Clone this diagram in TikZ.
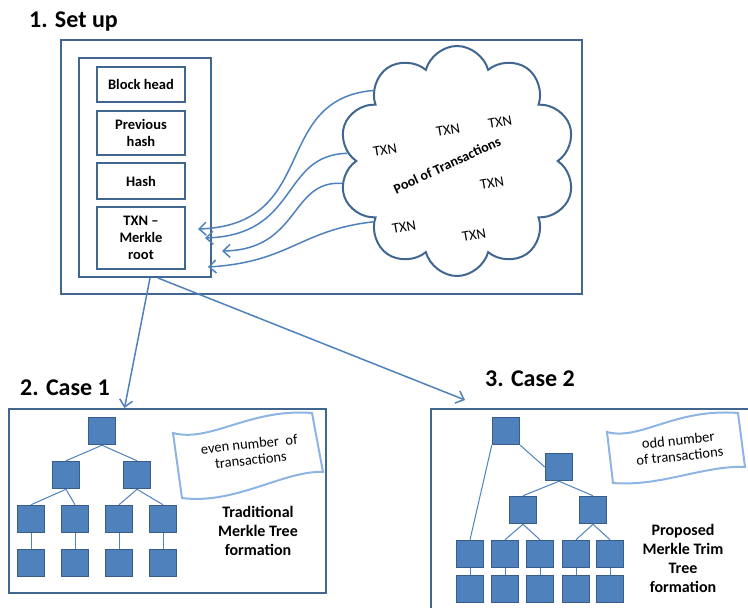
\documentclass[tikz,border=0pt]{standalone}
\usepackage{fontspec}
\setmainfont{Carlito}
\usetikzlibrary{arrows.meta,shapes.symbols}
\definecolor{boxblue}{HTML}{41668F}
\definecolor{sqfill}{HTML}{4F81BD}
\definecolor{sqline}{HTML}{385D8A}
\definecolor{flagblue}{HTML}{8EB4E3}
\tikzset{
	frame/.style={draw=boxblue, line width=2pt},
	field/.style={draw=boxblue, line width=2pt, minimum width=88pt, align=center, font=\bfseries\fontsize{14.5}{17}\selectfont},
	sq/.style={draw=sqline, fill=sqfill, line width=1.5pt, minimum size=27pt, inner sep=0pt},
	link/.style={draw=sqfill, line width=1pt},
	feed/.style={draw=sqfill, line width=1.5pt, -{Straight Barb[length=7pt,width=13pt]}},
	title/.style={anchor=base west, inner sep=0pt, font=\bfseries\fontsize{24}{28}\selectfont},
	txn/.style={inner sep=1pt, font=\fontsize{14.5}{17}\selectfont, rotate=10},
	flag/.style={draw=flagblue, line width=2pt},
	note/.style={align=center, font=\bfseries\fontsize{16}{19}\selectfont}
}
\begin{document}
\begin{tikzpicture}[x=1pt,y=-1pt]
	\useasboundingbox (0,0) rectangle (748,608);
	\clip (0,0) rectangle (748,608);
	\node [title] (t1) at (29,27) {1. Set up};
	\node [title] (t2) at (20,395) {2. Case 1};
	\node [title] (t3) at (485,386) {3. Case 2};
	\node [frame, minimum width=521pt, minimum height=254pt] (setup) at (321.5,167) {};
	\node [frame, minimum width=132pt, minimum height=219pt] (block) at (145,167.5) {};
	\node [field, minimum height=35pt] (head) at (141,84.5) {Block head};
	\node [field, minimum height=44pt] (prev) at (141,133) {Previous\\hash};
	\node [field, minimum height=36pt] (hash) at (141,181) {Hash};
	\node [field, minimum height=62pt] (root) at (141,238) {TXN --\\Merkle\\root};
	\node [cloud, cloud puffs=10, cloud puff arc=150, cloud ignores aspect, draw=boxblue, line width=2pt, minimum width=237pt, minimum height=230pt] (pool) at (457,161) {};
	\foreach \x/\y/\n in {385/150/1,448/130/2,500/122/3,492/183/4,404/227/5,474/235/6}
	\node [txn] (x\n) at (\x,\y) {TXN};
	\node [rotate=25, inner sep=0pt, font=\bfseries\fontsize{14}{17}\selectfont] (label) at (447,165) {Pool of Transactions};
	\coordinate (in1) at (198,229);
	\coordinate (in2) at (205,238);
	\coordinate (in3) at (222,251);
	\coordinate (in4) at (208,267);
	\draw [feed] (pool.140) .. controls (270,100) and (320,225) .. (in1);
	\draw [feed] (pool.176) .. controls (280,155) and (300,235) .. (in2);
	\draw [feed] (pool.191) .. controls (290,180) and (300,250) .. (in3);
	\draw [feed] (pool.216) .. controls (300,230) and (290,262) .. (in4);
	\node [frame, minimum width=317pt, minimum height=184pt] (case1) at (167.5,501) {};
	\draw [frame] (760,409) -- (431,409) -- (431,620);
	\coordinate (case2) at (465,400);
	\draw [feed] ([xshift=5pt]block.south) -- ([xshift=-43pt]case1.north);
	\draw [feed] ([xshift=13pt]block.south) -- (case2);
	\node [sq] (a) at (102,431) {};
	\foreach \x/\n in {66/1,137/2}
	\node [sq] (b\n) at (\x,475) {};
	\foreach \x/\n in {31/1,75/2,119/3,163/4}
	\node [sq] (c\n) at (\x,519) {};
	\foreach \x/\n in {31/1,75/2,119/3,163/4}
	\node [sq] (d\n) at (\x,563) {};
	\foreach \p/\c in {a/b1,a/b2,b1/c1,b1/c2,b2/c3,b2/c4,c1/d1,c2/d2,c3/d3,c4/d4}
	\draw [link] (\p.south) -- (\c.north);
	\draw [flag] (173,433) .. controls (210,443) and (250,408) .. (312,413) -- (323,472) .. controls (285,470) and (235,505) .. (182,498) -- cycle;
	\node [rotate=6, align=center, font=\fontsize{14.5}{16}\selectfont] (even) at (250,452) {even number\ \ of\\transactions};
	\node [note] (trad) at (258,531) {Traditional\\Merkle Tree\\formation};
	\node [sq] (p) at (506,431) {};
	\node [sq] (q) at (559,467) {};
	\foreach \x/\n in {523/1,593/2}
	\node [sq] (r\n) at (\x,510) {};
	\foreach \x/\n in {470/1,505/2,540/3,576/4,610/5}
	\node [sq] (s\n) at (\x,554) {};
	\foreach \x/\n in {470/1,505/2,540/3,576/4,610/5}
	\node [sq] (u\n) at (\x,589) {};
	\draw [link] (p.south west) -- (s1.north);
	\draw [link] (p.south east) -- (q.west);
	\foreach \p/\c in {q/r1,q/r2,r1/s2,r1/s3,r2/s4,r2/s5,s1/u1,s2/u2,s3/u3,s4/u4,s5/u5}
	\draw [link] (\p.south) -- (\c.north);
	\draw [flag] (607,432) .. controls (640,441) and (675,408) .. (738,413) -- (745,467) .. controls (705,465) and (660,487) .. (613,483) -- cycle;
	\node [rotate=6, align=center, font=\fontsize{14.5}{16}\selectfont] (odd) at (679,448) {odd number\\of transactions};
	\node [note] (trim) at (683,558) {Proposed\\Merkle Trim\\Tree\\formation};
\end{tikzpicture}
\end{document}
